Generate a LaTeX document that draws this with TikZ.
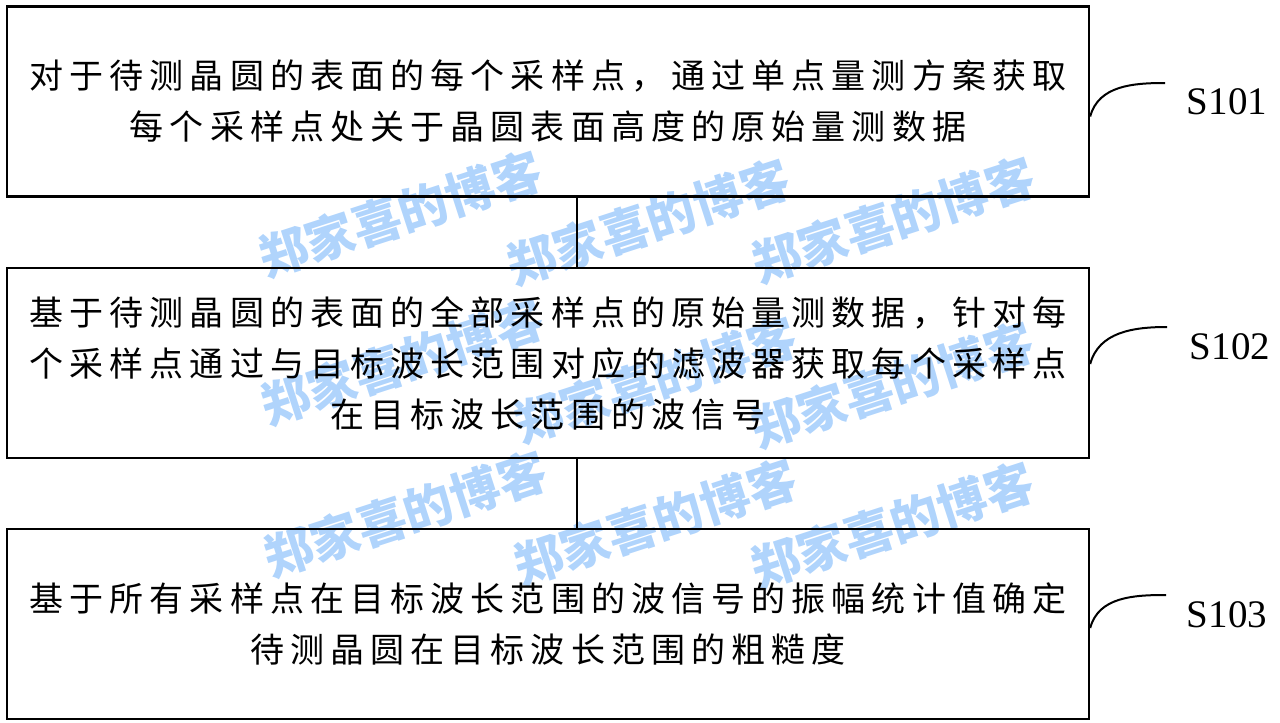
\documentclass[tikz,border=0pt]{standalone}
\usepackage{fontspec}
\setmainfont{Liberation Serif}
\newfontfamily\cjk{Noto Sans CJK SC}[LetterSpace=18]
\newfontfamily\wmark{Noto Sans CJK SC}
\definecolor{wmblue}{RGB}{176,212,252}

\begin{document}
\begin{tikzpicture}[x=0.5pt,y=-0.5pt,
  stepbox/.style={draw,line width=1.2pt,minimum width=541pt,minimum height=95pt,
    inner sep=0pt,align=center,font=\cjk\fontsize{17}{25.5}\selectfont},
  wm/.style={text=wmblue,rotate=18,inner sep=0pt,font=\wmark\bfseries\fontsize{24.5}{24.5}\selectfont},
  steplabel/.style={inner sep=0pt,font=\fontsize{19.5}{20}\selectfont}]
\useasboundingbox (0,0) rectangle (1280,723);
% watermark
\foreach \x/\y [count=\i] in {400/214,648/222,893/220,402/362,655/380,892/385,405/514,655/522,892/525}
  \node (wm\i) [wm] at (\x,\y) {郑家喜的博客};
% steps
\node (b1) [stepbox] at (548,101.5) {对于待测晶圆的表面的每个采样点，通过单点量测方案获取\\每个采样点处关于晶圆表面高度的原始量测数据};
\node (b2) [stepbox] at (548,363) {基于待测晶圆的表面的全部采样点的原始量测数据，针对每\\个采样点通过与目标波长范围对应的滤波器获取每个采样点\\在目标波长范围的波信号};
\node (b3) [stepbox] at (548,624) {基于所有采样点在目标波长范围的波信号的振幅统计值确定\\待测晶圆在目标波长范围的粗糙度};
\draw [line width=1pt] ([xshift=14.5pt]b1.south) -- ([xshift=14.5pt]b2.north);
\draw [line width=1pt] ([xshift=14.5pt]b2.south) -- ([xshift=14.5pt]b3.north);
% labels
\coordinate (t1) at (1165,83);
\coordinate (t2) at (1167,327);
\coordinate (t3) at (1166,595);
\node (l1) [steplabel] at (1227,102) {S101};
\node (l2) [steplabel] at (1230,347) {S102};
\node (l3) [steplabel] at (1227,615) {S103};
\draw [line width=1pt] ([yshift=-7.5pt]b1.east) to[out=75,in=180] (t1);
\draw [line width=1pt] ([yshift=-0.5pt]b2.east) to[out=75,in=180] (t2);
\draw [line width=1pt] ([yshift=-2pt]b3.east) to[out=75,in=180] (t3);
\end{tikzpicture}
\end{document}
